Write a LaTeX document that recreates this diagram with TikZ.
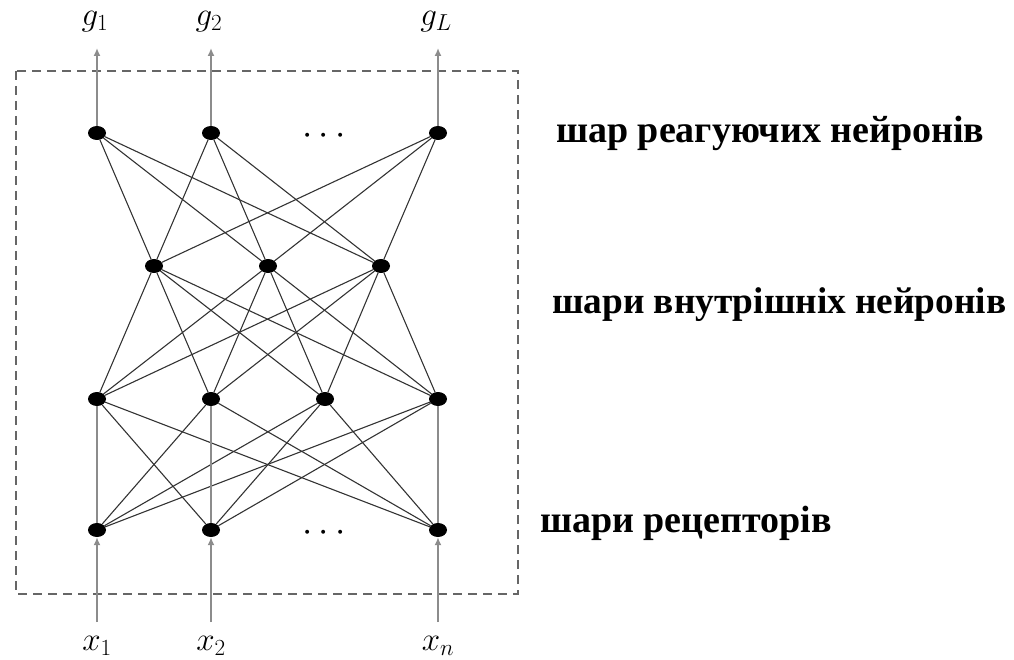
\RequirePackage{fix-cm}
\documentclass[tikz,border=0pt]{standalone}
\usepackage{fontspec}
\setmainfont{Liberation Serif}
\usepackage{tikz}
\usetikzlibrary{shapes.geometric,arrows.meta}

\begin{document}
\begin{tikzpicture}[x=1pt, y=-1pt,
    neuron/.style={ellipse, fill=black, inner sep=0pt, minimum width=18pt, minimum height=14pt},
    link/.style={draw=black!80, line width=1.1pt},
    feed/.style={draw=black!45, line width=1.6pt},
    io/.style={feed, -{Latex[length=8pt,width=7pt]}},
    sig/.style={font=\fontsize{33}{38}\selectfont, inner sep=0pt},
    dots/.style={font=\fontsize{37}{42}\selectfont, inner sep=0pt},
    layer/.style={font=\fontsize{38}{42}\selectfont\bfseries, anchor=base west, inner sep=0pt}]
    \useasboundingbox (0,0) rectangle (1014,660);
    \draw[black!60, line width=1.5pt, dash pattern=on 9pt off 6pt] (16,71) rectangle (518,594);
    % output layer
    \node[neuron] (o1) at (97,133) {};
    \node[neuron] (o2) at (211,133) {};
    \node[neuron] (oL) at (438,133) {};
    \node[dots] (od) at (324,136) {$\cdots$};
    % hidden layers
    \node[neuron] (h1) at (154,266) {};
    \node[neuron] (h2) at (268,266) {};
    \node[neuron] (h3) at (381,266) {};
    \node[neuron] (m1) at (97,399) {};
    \node[neuron] (m2) at (211,399) {};
    \node[neuron] (m3) at (325,399) {};
    \node[neuron] (m4) at (438,399) {};
    % receptors
    \node[neuron] (r1) at (97,530) {};
    \node[neuron] (r2) at (211,530) {};
    \node[neuron] (rn) at (438,530) {};
    \node[dots] (rd) at (324,533) {$\cdots$};
    \foreach \a in {o1,o2,oL} \foreach \b in {h1,h2,h3} \draw[link] (\a) -- (\b);
    \foreach \a in {h1,h2,h3} \foreach \b in {m1,m2,m3,m4} \draw[link] (\a) -- (\b);
    \foreach \a/\b in {m1/r2,m1/rn,m2/r1,m2/rn,m3/r1,m3/r2,m3/rn,m4/r1,m4/r2} \draw[link] (\a) -- (\b);
    \draw[feed] (m1) -- (r1);
    \draw[feed] (m2) -- (r2);
    \draw[feed] (m4) -- (rn);
    % inputs and outputs
    \node[sig] (g1) at (95,22) {$g_1$};
    \node[sig] (g2) at (209,22) {$g_2$};
    \node[sig] (gL) at (436,22) {$g_L$};
    \node[sig] (x1) at (97,646) {$x_1$};
    \node[sig] (x2) at (211,646) {$x_2$};
    \node[sig] (xn) at (438,646) {$x_n$};
    \coordinate (t1) at (97,48);
    \coordinate (t2) at (211,48);
    \coordinate (tL) at (438,48);
    \coordinate (b1) at (97,622);
    \coordinate (b2) at (211,622);
    \coordinate (bn) at (438,622);
    \draw[io] (o1) -- (t1);
    \draw[io] (o2) -- (t2);
    \draw[io] (oL) -- (tL);
    \draw[io] (b1) -- (r1);
    \draw[io] (b2) -- (r2);
    \draw[io] (bn) -- (rn);
    \node[layer] (l1) at (556,143) {шар реагуючих нейронів};
    \node[layer, font=\fontsize{37.3}{42}\selectfont\bfseries] (l2) at (552,313) {шари внутрішніх нейронів};
    \node[layer] (l3) at (540,532) {шари рецепторів};
\end{tikzpicture}
\end{document}
